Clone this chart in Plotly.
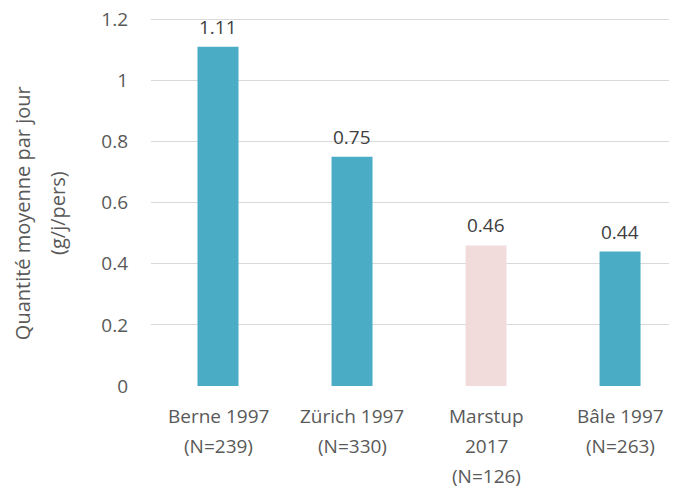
import plotly.graph_objects as go

categories = ["Berne 1997", "Zürich 1997", "Marstup 2017", "Bâle 1997"]
label_lines = [["Berne 1997", "(N=239)"], ["Zürich 1997", "(N=330)"],
               ["Marstup", "2017", "(N=126)"], ["Bâle 1997", "(N=263)"]]
values = [1.11, 0.75, 0.46, 0.44]
value_labels = ["1.11", "0.75", "0.46", "0.44"]
colors = ["#4BACC6", "#4BACC6", "#F2DCDB", "#4BACC6"]
y_ticks = [0, 0.2, 0.4, 0.6, 0.8, 1.0, 1.2]
y_ticktext = ["0", "0.2", "0.4", "0.6", "0.8", "1", "1.2"]
y_title_lines = ["Quantité moyenne par jour", "(g/j/pers)"]

FONT = "Open Sans"
fig = go.Figure()
fig.add_trace(go.Bar(
    x=categories, y=values, marker=dict(color=colors, line=dict(width=0)),
    width=0.306, hoverinfo="skip"))

ann = []
for c, v, t in zip(categories, values, value_labels):
    ann.append(dict(x=c, y=v, text=t, showarrow=False, yanchor="middle",
                    yshift=20, font=dict(family=FONT, size=19, color="#404040")))
for c, lines in zip(categories, label_lines):
    for i, ln in enumerate(lines):
        ann.append(dict(x=c, y=0, yref="y", text=ln, showarrow=False,
                        yanchor="middle", yshift=-30 - 30 * i,
                        font=dict(family=FONT, size=19, color="#595959")))
for xp, ln in zip([-0.245, -0.179], y_title_lines):
    ann.append(dict(xref="paper", yref="paper", x=xp, y=0.46,
                    text=ln, showarrow=False,
                    textangle=-90, xanchor="center", yanchor="middle",
                    font=dict(family=FONT, size=20, color="#595959")))

# page body has an 8px default margin, so the figure is 8px smaller
fig.update_layout(
    width=669, height=480, margin=dict(l=143, r=0, t=2, b=102, autoexpand=False),
    paper_bgcolor="white", plot_bgcolor="white", showlegend=False,
    annotations=ann,
    xaxis=dict(type="category", range=[-0.5, 3.425], showticklabels=False,
               showgrid=False, zeroline=False, showline=False, ticks="",
               automargin=False),
    yaxis=dict(range=[0, 1.23], tickvals=y_ticks, ticktext=y_ticktext,
               showgrid=True, gridcolor="#D9D9D9", gridwidth=1,
               zeroline=False, showline=False, ticklabelstandoff=22,
               automargin=False, ticklabeloverflow="allow",
               tickfont=dict(family=FONT, size=19, color="#595959")),
)
fig.write_html("out.html")
